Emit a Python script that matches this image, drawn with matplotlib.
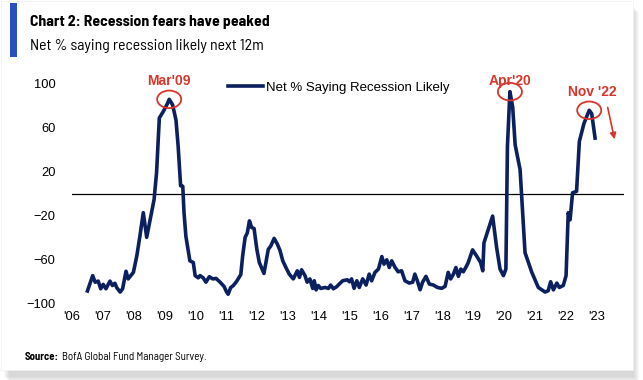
import numpy as np
import matplotlib.pyplot as plt
from matplotlib.patches import Ellipse, Rectangle

# net % of fund managers saying recession likely
years = [2006.50, 2006.67, 2006.75, 2006.85, 2006.93, 2007.01, 2007.10, 2007.23, 2007.31, 2007.39,
         2007.45, 2007.56, 2007.64, 2007.75, 2007.82, 2007.99, 2008.10, 2008.20, 2008.31, 2008.42,
         2008.53, 2008.66, 2008.74, 2008.83, 2008.96, 2009.09, 2009.15, 2009.26, 2009.37, 2009.44,
         2009.52, 2009.59, 2009.63, 2009.69, 2009.82, 2009.93, 2009.99, 2010.09,
         2010.15, 2010.25, 2010.34, 2010.45, 2010.56, 2010.67, 2010.80, 2010.93, 2011.01, 2011.06,
         2011.14, 2011.23, 2011.34, 2011.47, 2011.53, 2011.61, 2011.68, 2011.75, 2011.82, 2011.90,
         2011.99, 2012.07, 2012.22, 2012.36, 2012.44, 2012.55, 2012.65, 2012.74, 2012.83, 2012.93,
         2013.04, 2013.17, 2013.30, 2013.37, 2013.44, 2013.55, 2013.62, 2013.71, 2013.80, 2013.85,
         2013.91, 2013.98, 2014.06, 2014.20, 2014.31, 2014.38, 2014.47, 2014.58, 2014.66,
         2014.77, 2014.92, 2014.99, 2015.06, 2015.14, 2015.23, 2015.31, 2015.42, 2015.53, 2015.63,
         2015.71, 2015.82, 2015.93, 2016.04, 2016.11, 2016.20, 2016.28, 2016.36, 2016.47, 2016.57,
         2016.68, 2016.79, 2016.93, 2017.04, 2017.11, 2017.19, 2017.28, 2017.36, 2017.47, 2017.58,
         2017.71, 2017.84, 2017.98, 2018.09, 2018.19, 2018.27, 2018.36, 2018.44, 2018.52, 2018.60,
         2018.68, 2018.79,
         2018.84, 2018.98, 2019.11, 2019.24, 2019.31, 2019.35, 2019.49, 2019.63, 2019.76, 2019.87,
         2019.98, 2020.06, 2020.11, 2020.19, 2020.28, 2020.36, 2020.52, 2020.68, 2020.90, 2021.11,
         2021.33, 2021.43, 2021.51, 2021.60, 2021.71, 2021.79, 2021.92, 2022.01, 2022.08, 2022.14,
         2022.22, 2022.35, 2022.44, 2022.59, 2022.76, 2022.84, 2022.95]
net_pct = [-89, -75, -81, -80, -87, -83, -87, -80, -84, -82,
           -86, -90, -87, -71, -78, -72, -57, -39, -17.5, -40,
           -24, -5.5, 19, 69, 75, 82, 86, 81, 67, 43,
           7, 6.6, -17.5, -39, -61.5, -63, -75, -77,
           -75, -77, -81, -76, -78, -77.6, -81, -85, -90, -92,
           -86, -84, -80, -74, -57, -40, -36, -25, -31, -32,
           -51, -63, -73, -51, -48, -41, -46, -52, -61.5, -67.5,
           -73.6, -78, -70.6, -76.6, -69.7, -75, -81, -78, -86.7, -79.7,
           -88, -84, -86.7, -85.8, -86.7, -83.6, -87, -85, -82.7,
           -79.7, -78.8, -80.6, -78, -86.6, -79.7, -85.8, -78, -83.6, -73.6,
           -79.7, -72, -69, -57.6, -64.5, -60.6, -67.6, -61.5, -67.6, -71.5,
           -70.6, -79.7, -81.8, -81, -73.6, -79.7, -87.9, -81, -75.7, -82.7,
           -83.6, -85.8, -86.6, -84.8, -72, -78, -73.6, -67.6, -75.7, -69,
           -71.5, -66,
           -63, -51.5, -57, -63, -70.6, -45, -32.7, -20.6, -49.4, -69,
           -75, -69, 43, 93, 79, 44.5, 21.8, -54, -72, -85.8,
           -90, -88.8, -80.6, -88, -81.8, -85.8, -84, -75, -17.5, -24,
           0.6, 2, 47.5, 64, 76, 73, 50.6]

tick_years = list(range(2006, 2024))
tick_labels = ["'%02d" % (y % 100) for y in tick_years]
y_ticks = [100, 60, 20, -20, -60, -100]

# label, date of the circled peak, label height above the peak
peaks = [("Mar'09", 2009.15, 17), ("Apr'20", 2020.19, 10), ("Nov '22", 2022.76, 17)]

navy = '#0c1f5f'
red = '#d7362b'
cond = ['Barlow Semi Condensed', 'Archivo Narrow', 'DejaVu Sans']

W, H = 643, 380
fig = plt.figure(figsize=(W / 100, H / 100), dpi=100)
fig.patch.set_facecolor('white')

# card with a soft shadow
for i in range(6):
    fig.patches.append(Rectangle((4 + i, 3 - i), 630, 370, transform=None,
                                 facecolor='#888888', alpha=0.06, edgecolor='none', zorder=0))
fig.patches.append(Rectangle((1, 10), 632, 369, transform=None, facecolor='white',
                             edgecolor='#f0f0f0', lw=0.5, zorder=1))
fig.patches.append(Rectangle((10, H - 57), 7, 54, transform=None, facecolor='#2a50c0',
                             edgecolor='none', zorder=2))


def fit(t, width_px):
    fig.canvas.draw()
    w = t.get_window_extent().width
    t.set_fontsize(t.get_fontsize() * width_px / w)


title = fig.text(30 / W, 1 - 26 / H, 'Chart 2: Recession fears have peaked', fontsize=11,
                 fontweight='bold', family=cond, va='baseline')
fit(title, 239)
sub = fig.text(30 / W, 1 - 50 / H, 'Net % saying recession likely next 12m', fontsize=11,
               family=cond, va='baseline')
fit(sub, 234)
src = fig.text(25 / W, 1 - 360.5 / H, 'Source:', fontsize=7.5, fontweight='bold',
               family=cond, va='baseline')
fit(src, 34)
src2 = fig.text(62 / W, 1 - 360.5 / H, 'BofA Global Fund Manager Survey.',
                fontsize=src.get_fontsize(), family=cond, va='baseline')
fit(src2, 145)

ax = fig.add_axes([72 / W, 1 - 303 / H, 552 / W, 219 / H])
ax.set_facecolor('none')
ax.set_zorder(3)
ax.plot(years, net_pct, color=navy, lw=2.6, solid_joinstyle='round',
        label='Net % Saying Recession Likely', zorder=3)
ax.axhline(0, color='black', lw=0.9, zorder=2)
ax.set_xlim(2006, 2006 + 552 / 30.86)
ax.set_ylim(-100, 100)
ax.set_xticks(tick_years)
ax.set_xticklabels(tick_labels)
ax.set_yticks(y_ticks)
for s in ax.spines.values():
    s.set_visible(False)
ax.tick_params(axis='both', length=0, labelsize=9.3, labelcolor='black')
ax.tick_params(axis='y', pad=12)
ax.tick_params(axis='x', pad=6)
for lab in ax.get_xticklabels() + ax.get_yticklabels():
    lab.set_family('Liberation Sans')

leg = ax.legend(loc='center left', bbox_to_anchor=(0.283, 0.982), frameon=False,
                borderpad=0, borderaxespad=0, handlelength=2.6, handletextpad=0.25,
                prop={'family': 'Liberation Sans', 'size': 9.5})

# circles and labels on the three peaks
yr = np.array(years)
vals = np.array(net_pct)
for lab, when, up in peaks:
    i = np.argmin(abs(yr - when))
    ax.add_patch(Ellipse((yr[i], vals[i]), 0.78, 16, fill=False, edgecolor=red, lw=1.3,
                         zorder=4, clip_on=False))
    ax.text(yr[i] + (0.1 if lab == "Nov '22" else 0), vals[i] + up, lab, color=red,
            fontsize=10, fontweight='bold', ha='center', va='center',
            family='Liberation Sans', clip_on=False)

ax.annotate('', xy=(2023.6, 47), xytext=(2023.34, 81),
            arrowprops=dict(arrowstyle='-|>', color=red, lw=1.2, mutation_scale=9),
            annotation_clip=False)

fig.savefig('out.png', dpi=100)
